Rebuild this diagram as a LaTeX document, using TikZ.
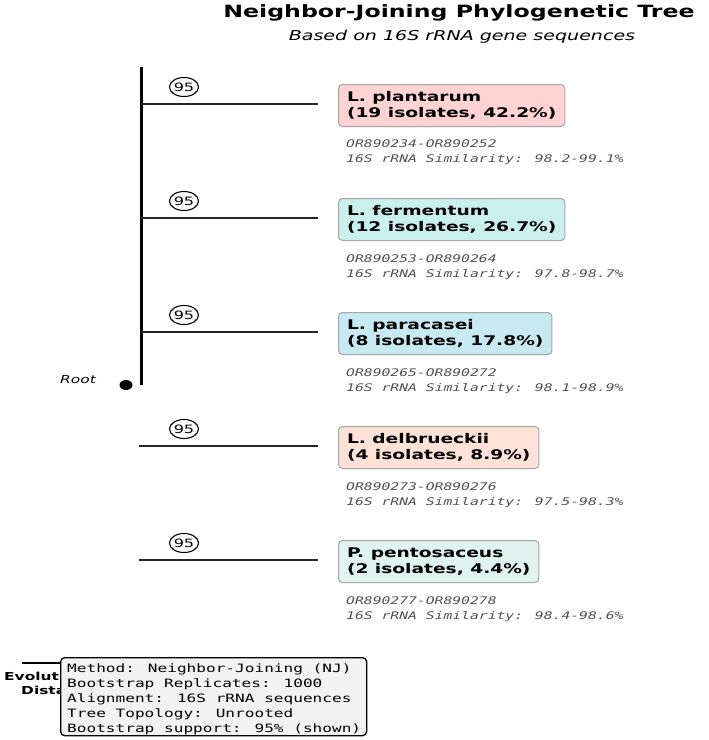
\documentclass[tikz,border=0pt]{standalone}
\usepackage{fontspec}
\setmainfont{DejaVu Sans}[FakeStretch=1.4]
\newfontfamily\accfont{DejaVu Sans Mono}[FakeStretch=1.4]
\usetikzlibrary{positioning,shapes.geometric}

\definecolor{plantc}{HTML}{FFD3D3}
\definecolor{fermc}{HTML}{CAF0ED}
\definecolor{parac}{HTML}{C7E9F1}
\definecolor{delbc}{HTML}{FFE2D7}
\definecolor{pentc}{HTML}{E0F3EE}
\definecolor{acctext}{HTML}{505050}
\definecolor{infofill}{HTML}{F2F2F2}

\begin{document}
\begin{tikzpicture}[x=1pt, y=-1pt]
        % -------- styles --------
        \tikzset{
          branch/.style={line width=2.4pt, black!85},
          spine/.style={line width=3pt},
          boot/.style={ellipse, draw, line width=1.1pt, inner sep=0pt,
            minimum width=28, minimum height=19, font=\fontsize{11.5}{11.5}\selectfont},
          taxon/.style={draw=gray!70, fill=#1, rounded corners=4pt, line width=1pt,
            anchor=west, align=left, inner xsep=8.5pt, minimum height=42,
            font=\bfseries\fontsize{13.3}{16}\selectfont},
          acc/.style={align=left, inner sep=0pt, text=acctext,
            font=\accfont\itshape\fontsize{10.5}{15}\selectfont},
          infobox/.style={draw, fill=infofill, rounded corners=4pt, line width=1.3pt,
            anchor=north west, minimum width=306, minimum height=78, inner sep=0pt},
          infotext/.style={anchor=north west, align=left, inner sep=0pt,
            font=\accfont\fontsize{11.5}{15}\selectfont},
        }
        \useasboundingbox (0,0) rectangle (709,740);

        % -------- title --------
        \node[font=\bfseries\fontsize{16.9}{20}\selectfont] (title) at (459,13)
          {Neighbor-Joining Phylogenetic Tree};
        \node[font=\itshape\fontsize{13.6}{16}\selectfont] (subtitle) at (462,37)
          {Based on 16S rRNA gene sequences};

        % -------- spine + root --------
        \coordinate (top) at (141,67);
        \coordinate (bot) at (141,385);
        \draw[spine] (top) -- (bot);
        \node[ellipse, fill, inner sep=0pt, minimum width=13, minimum height=10] (root) at (126,385) {};
        \node[font=\itshape\fontsize{11}{13}\selectfont] (rootlbl) at (78,380) {Root};

        % -------- L. plantarum --------
        \coordinate (j1) at (141,104);
        \coordinate (e1) at (318,104);
        \draw[branch] (j1) -- (e1);
        \node[boot] (b1) at (184,87) {95};
        \node[taxon=plantc] (t1) at (338,105.5) {L. plantarum\\(19 isolates, 42.2\%)};
        \node[acc, below right=13pt and 8pt of t1.south west] (a1)
          {OR890234-OR890252\\16S rRNA Similarity: 98.2-99.1\%};

        % -------- L. fermentum --------
        \coordinate (j2) at (141,218);
        \coordinate (e2) at (318,218);
        \draw[branch] (j2) -- (e2);
        \node[boot] (b2) at (184,201) {95};
        \node[taxon=fermc] (t2) at (338,219.5) {L. fermentum\\(12 isolates, 26.7\%)};
        \node[acc, below right=13pt and 8pt of t2.south west] (a2)
          {OR890253-OR890264\\16S rRNA Similarity: 97.8-98.7\%};

        % -------- L. paracasei --------
        \coordinate (j3) at (141,332);
        \coordinate (e3) at (318,332);
        \draw[branch] (j3) -- (e3);
        \node[boot] (b3) at (184,315) {95};
        \node[taxon=parac] (t3) at (338,333.5) {L. paracasei\\(8 isolates, 17.8\%)};
        \node[acc, below right=13pt and 8pt of t3.south west] (a3)
          {OR890265-OR890272\\16S rRNA Similarity: 98.1-98.9\%};

        % -------- L. delbrueckii --------
        \coordinate (j4) at (139,446);
        \coordinate (e4) at (318,446);
        \draw[branch] (j4) -- (e4);
        \node[boot] (b4) at (184,429) {95};
        \node[taxon=delbc] (t4) at (338,447.5) {L. delbrueckii\\(4 isolates, 8.9\%)};
        \node[acc, below right=13pt and 8pt of t4.south west] (a4)
          {OR890273-OR890276\\16S rRNA Similarity: 97.5-98.3\%};

        % -------- P. pentosaceus --------
        \coordinate (j5) at (139,560);
        \coordinate (e5) at (318,560);
        \draw[branch] (j5) -- (e5);
        \node[boot] (b5) at (184,543) {95};
        \node[taxon=pentc] (t5) at (338,561.5) {P. pentosaceus\\(2 isolates, 4.4\%)};
        \node[acc, below right=13pt and 8pt of t5.south west] (a5)
          {OR890277-OR890278\\16S rRNA Similarity: 98.4-98.6\%};

        % -------- scale bar + legend --------
        \coordinate (sb1) at (22,663);
        \coordinate (sb2) at (90,663);
        \draw[branch, black] (sb1) -- (sb2);
        \node[align=center, font=\bfseries\fontsize{11}{14}\selectfont] (sblbl) at (59,683)
          {Evolutionary\\Distance};
        \node[infobox] (info) at (60,657) {};
        \node[infotext, below right=6.5pt and 7pt of info.north west] (infotxt)
          {Method: Neighbor-Joining (NJ)\\Bootstrap Replicates: 1000\\Alignment: 16S rRNA sequences\\Tree Topology: Unrooted\\Bootstrap support: 95\% (shown)};

\end{tikzpicture}
\end{document}
